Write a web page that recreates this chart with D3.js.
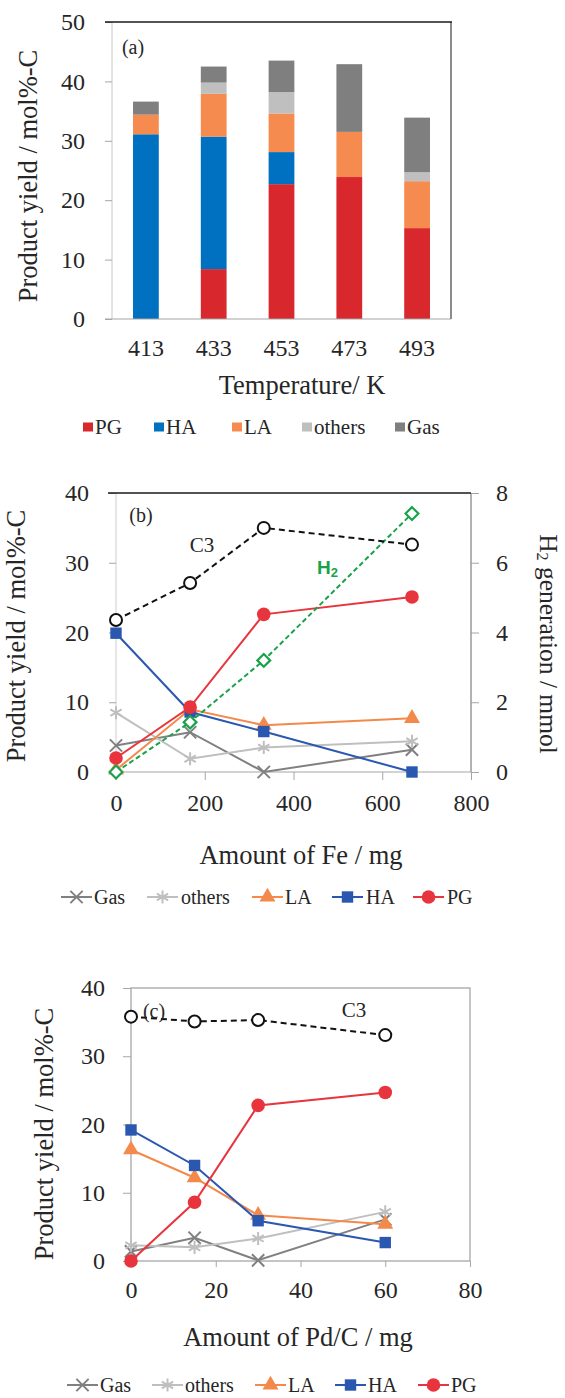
<!DOCTYPE html>
<html>
<head>
<meta charset="utf-8">
<script src="https://cdn.jsdelivr.net/npm/d3@7"></script>
<style>
  body { margin: 0; background: #fff; }
  svg { display: block; }
</style>
</head>
<body>
<svg id="fig" width="565" height="1398"></svg>
<script>
// ---- DATA ----
// (a) product yield vs temperature, stacked
const temps = ["413", "433", "453", "473", "493"];
const barKeys = ["PG", "HA", "LA", "others", "Gas"];
const barPG = [0, 8.4, 22.7, 23.9, 15.3];
const barHA = [31.1, 22.3, 5.4, 0, 0];
const barLA = [3.3, 7.2, 6.5, 7.6, 7.9];
const barOthers = [0, 1.9, 3.6, 0, 1.5];
const barGas = [2.2, 2.7, 5.3, 11.4, 9.2];

// (b) amount of Fe
const feAmount = [0, 167, 333, 667];
const feC3 = [21.8, 27.1, 35.0, 32.6];
const fePG = [2.0, 9.3, 22.6, 25.1];
const feHA = [19.9, 8.6, 5.8, 0];
const feLA = [0.3, 9.0, 6.7, 7.7];
const feOthers = [8.5, 1.9, 3.5, 4.4];
const feGas = [3.8, 5.7, 0, 3.2];
const feH2 = [0, 1.43, 3.2, 7.41];

// (c) amount of Pd/C
const pdAmount = [0, 15, 30, 60];
const pdC3 = [35.8, 35.1, 35.3, 33.1];
const pdPG = [0, 8.6, 22.8, 24.7];
const pdHA = [19.2, 14.0, 5.9, 2.7];
const pdLA = [16.3, 12.2, 6.7, 5.4];
const pdOthers = [2.3, 2.0, 3.3, 7.2];
const pdGas = [1.4, 3.4, 0.1, 6.1];

const yTicks = [0, 10, 20, 30, 40];
const yTicksA = [0, 10, 20, 30, 40, 50];
const h2Ticks = [0, 2, 4, 6, 8];
const feTicks = [0, 200, 400, 600, 800];
const pdTicks = [0, 20, 40, 60, 80];

// ---- STYLE ----
const serif = "'Liberation Serif', Tinos, 'Times New Roman', 'DejaVu Serif', 'Noto Serif', serif";
const ink = "#262626";
const colors = {
  PG: "#d9272e",
  HA: "#0070c0",
  LA: "#f58b4f",
  others: "#bfbfbf",
  Gas: "#7f7f7f",
};
const lineColors = {
  PG: "#e8353d",
  HA: "#2a58b0",
  LA: "#f38a4c",
  others: "#bfbfbf",
  Gas: "#808080",
  H2: "#1aa24a",
};

const svg = d3.select("#fig");

function styleAxis(g, size) {
  g.selectAll("path.domain").remove();
  g.selectAll("line").attr("stroke", "#a6a6a6").attr("stroke-width", 1);
  g.selectAll("text")
    .style("font-family", serif)
    .attr("font-size", size)
    .attr("fill", ink);
}

function label(x, y, txt, size, rotate) {
  const t = svg
    .append("text")
    .style("font-family", serif)
    .attr("font-size", size)
    .attr("fill", ink)
    .attr("text-anchor", "middle")
    .attr("dominant-baseline", "central")
    .attr("transform", `translate(${x},${y})` + (rotate ? ` rotate(${rotate})` : ""));
  return t.text(txt);
}

function hline(x0, x1, y, color, w) {
  svg.append("line").attr("x1", x0).attr("x2", x1).attr("y1", y).attr("y2", y)
    .attr("stroke", color).attr("stroke-width", w);
}
function vline(x, y0, y1, color, w) {
  svg.append("line").attr("x1", x).attr("x2", x).attr("y1", y0).attr("y2", y1)
    .attr("stroke", color).attr("stroke-width", w);
}

// ================= PANEL (a) =================
{
  const left = 112, right = 451, top = 22, bottom = 319;
  const x = d3.scaleBand().domain(temps).range([left, right])
    .paddingInner(0.62).paddingOuter(0.31);
  const y = d3.scaleLinear().domain([0, 50]).range([bottom, top]);

  const rows = temps.map((t, i) => ({
    temp: t, PG: barPG[i], HA: barHA[i], LA: barLA[i], others: barOthers[i], Gas: barGas[i],
  }));
  const stacked = d3.stack().keys(barKeys)(rows);

  vline(left, top, bottom, "#c8c8c8", 1);

  svg.append("g").attr("class", "bars")
    .selectAll("g").data(stacked).join("g")
    .attr("fill", (d) => colors[d.key])
    .selectAll("rect").data((d) => d).join("rect")
    .attr("x", (d) => x(d.data.temp))
    .attr("width", x.bandwidth())
    .attr("y", (d) => y(d[1]))
    .attr("height", (d) => y(d[0]) - y(d[1]));

  const ya = svg.append("g").attr("transform", `translate(${left},0)`)
    .call(d3.axisLeft(y).tickValues(yTicksA).tickSize(7).tickPadding(20));
  styleAxis(ya, 24);

  const xa = svg.append("g").attr("transform", `translate(0,${bottom})`)
    .call(d3.axisBottom(x).tickSize(0).tickPadding(20));
  styleAxis(xa, 24);

  hline(left - 7, right, bottom, "#a6a6a6", 1.2);
  vline(right, top, bottom, "#8c8c8c", 2);
  hline(left - 7, right + 1, top, "#1a1a1a", 1.6);

  label(133, 47, "(a)", 20);
  label(28, 176, "Product yield / mol%-C", 26.5, -90);
  label(302, 385, "Temperature/ K", 26.5);

  // legend
  const legX = [83, 154, 232, 302, 395];
  const lg = svg.append("g").selectAll("g").data(barKeys).join("g")
    .attr("transform", (d, i) => `translate(${legX[i]},427)`);
  lg.append("rect").attr("x", 0).attr("y", -4.5).attr("width", 10).attr("height", 9)
    .attr("fill", (d) => colors[d]);
  lg.append("text").attr("x", 12).attr("y", 0).attr("dominant-baseline", "central")
    .style("font-family", serif).attr("font-size", 21).attr("fill", ink).text((d) => d);
}

// ---- line panel helpers ----
const symbolFor = {
  Gas: { type: d3.symbolTimes, size: 100, filled: false },
  others: { type: d3.symbolAsterisk, size: 120, filled: false },
  LA: { type: d3.symbolTriangle, size: 110, filled: true },
  HA: { type: d3.symbolSquare, size: 130, filled: true },
  PG: { type: d3.symbolCircle, size: 145, filled: true },
  H2: { type: d3.symbolDiamond2, size: 105, filled: false },
};

function drawMarker(g, key, px, py) {
  const s = symbolFor[key];
  const p = g.append("path")
    .attr("d", d3.symbol().type(s.type).size(s.size)())
    .attr("transform", `translate(${px},${py})`);
  if (s.filled) {
    p.attr("fill", lineColors[key]);
  } else if (key === "H2") {
    p.attr("fill", "#fff").attr("stroke", lineColors[key]).attr("stroke-width", 2.2);
  } else {
    p.attr("fill", "none").attr("stroke", lineColors[key]).attr("stroke-width", 2);
  }
}

function drawSeries(xs, ys, key, xScale, yScale, dashed) {
  const g = svg.append("g").attr("class", "series-" + key);
  const pts = xs.map((v, i) => [xScale(v), yScale(ys[i])]);
  g.append("path").attr("d", d3.line()(pts))
    .attr("fill", "none")
    .attr("stroke", lineColors[key])
    .attr("stroke-width", 2)
    .attr("stroke-dasharray", dashed ? "5,3" : null);
  pts.forEach((p) => drawMarker(g, key, p[0], p[1]));
}

function drawC3(xs, ys, xScale, yScale) {
  const g = svg.append("g").attr("class", "series-C3");
  const pts = xs.map((v, i) => [xScale(v), yScale(ys[i])]);
  g.append("path").attr("d", d3.line()(pts))
    .attr("fill", "none").attr("stroke", "#111").attr("stroke-width", 2)
    .attr("stroke-dasharray", "6,4");
  g.selectAll("circle").data(pts).join("circle")
    .attr("cx", (d) => d[0]).attr("cy", (d) => d[1]).attr("r", 6)
    .attr("fill", "#fff").attr("stroke", "#111").attr("stroke-width", 2);
}

function lineLegend(y, lineX, textX) {
  const keys = ["Gas", "others", "LA", "HA", "PG"];
  keys.forEach((k, i) => {
    const g = svg.append("g");
    g.append("line").attr("x1", lineX[i]).attr("x2", lineX[i] + 31)
      .attr("y1", y).attr("y2", y)
      .attr("stroke", lineColors[k]).attr("stroke-width", 2);
    drawMarker(g, k, lineX[i] + 15.5, y);
    g.append("text").attr("x", textX[i]).attr("y", y).attr("dominant-baseline", "central")
      .style("font-family", serif).attr("font-size", 20).attr("fill", ink).text(k);
  });
}

// ================= PANEL (b) =================
{
  const left = 116, right = 471, top = 493, bottom = 772;
  const x = d3.scaleLinear().domain([0, 800]).range([left, right]);
  const y = d3.scaleLinear().domain([0, 40]).range([bottom, top]);
  const yR = d3.scaleLinear().domain([0, 8]).range([bottom, top]);

  vline(left, top, bottom, "#cfcfcf", 1);

  const ya = svg.append("g").attr("transform", `translate(${left},0)`)
    .call(d3.axisLeft(y).tickValues(yTicks).tickSize(7).tickPadding(20));
  styleAxis(ya, 24);
  const yb = svg.append("g").attr("transform", `translate(${right},0)`)
    .call(d3.axisRight(yR).tickValues(h2Ticks).tickSize(8).tickPadding(17));
  styleAxis(yb, 24);
  const xa = svg.append("g").attr("transform", `translate(0,${bottom})`)
    .call(d3.axisBottom(x).tickValues(feTicks).tickSize(8).tickPadding(14));
  styleAxis(xa, 24);

  hline(left, right, bottom, "#a6a6a6", 1.2);
  vline(right, top, bottom, "#999", 1.5);
  hline(left - 8, right, top, "#1a1a1a", 1.6);

  drawSeries(feAmount, feGas, "Gas", x, y);
  drawSeries(feAmount, feOthers, "others", x, y);
  drawSeries(feAmount, feLA, "LA", x, y);
  drawSeries(feAmount, feHA, "HA", x, y);
  drawSeries(feAmount, fePG, "PG", x, y);
  drawSeries(feAmount, feH2, "H2", x, yR, true);
  drawC3(feAmount, feC3, x, y);

  label(141, 515, "(b)", 20);
  label(202, 545, "C3", 21);
  const h2 = svg.append("text").attr("x", 317).attr("y", 567)
    .attr("dominant-baseline", "central")
    .style("font-family", "'Liberation Sans', Arimo, Arial, sans-serif")
    .attr("font-weight", "bold").attr("font-size", 19).attr("fill", lineColors.H2);
  h2.append("tspan").text("H");
  h2.append("tspan").attr("font-size", 13).attr("dy", 5).text("2");

  label(16, 636, "Product yield / mol%-C", 26.5, -90);
  const rt = label(549, 644, "", 25.5, 90);
  rt.append("tspan").text("H");
  rt.append("tspan").attr("font-size", 16).attr("dy", 6).text("2");
  rt.append("tspan").attr("dy", -6).text(" generation / mmol");

  label(301, 855, "Amount of Fe / mg", 26.5);
  lineLegend(897, [61, 147, 252, 332, 413], [94, 181, 285, 366, 447]);
}

// ================= PANEL (c) =================
{
  const left = 131, right = 470, top = 988, bottom = 1261;
  const x = d3.scaleLinear().domain([0, 80]).range([left, right]);
  const y = d3.scaleLinear().domain([0, 40]).range([bottom, top]);

  const ya = svg.append("g").attr("transform", `translate(${left},0)`)
    .call(d3.axisLeft(y).tickValues(yTicks).tickSize(8).tickPadding(18));
  styleAxis(ya, 24);
  const xa = svg.append("g").attr("transform", `translate(0,${bottom})`)
    .call(d3.axisBottom(x).tickValues(pdTicks).tickSize(6).tickPadding(14));
  styleAxis(xa, 24);

  svg.append("rect").attr("x", left).attr("y", top)
    .attr("width", right - left).attr("height", bottom - top)
    .attr("fill", "none").attr("stroke", "#a6a6a6").attr("stroke-width", 1.3);

  drawSeries(pdAmount, pdGas, "Gas", x, y);
  drawSeries(pdAmount, pdOthers, "others", x, y);
  drawSeries(pdAmount, pdLA, "LA", x, y);
  drawSeries(pdAmount, pdHA, "HA", x, y);
  drawSeries(pdAmount, pdPG, "PG", x, y);
  drawC3(pdAmount, pdC3, x, y);

  label(154, 1011, "(c)", 20);
  label(354, 1010, "C3", 21);
  label(44, 1134, "Product yield / mol%-C", 26.5, -90);
  label(298, 1337, "Amount of Pd/C / mg", 26.5);
  lineLegend(1385, [67, 152, 255, 335, 418], [100, 185, 288, 368, 451]);
}
</script>
</body>
</html>
